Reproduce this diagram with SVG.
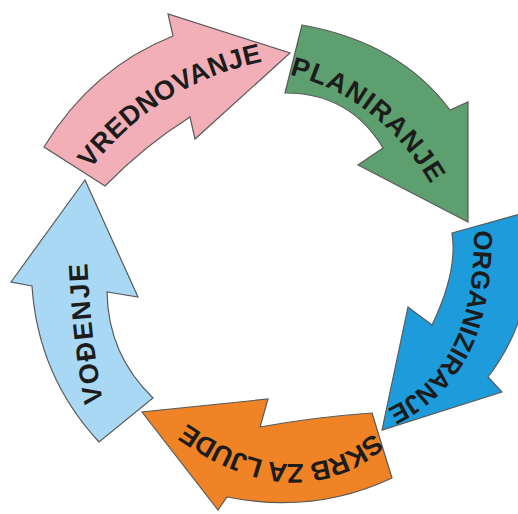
<svg xmlns="http://www.w3.org/2000/svg" width="518" height="514" viewBox="0 0 518 514">
<defs>
<style>
.arrow{stroke:#5a5a5a;stroke-width:1.2;stroke-linejoin:miter}
.lbl{font-family:"Liberation Sans",Arial,sans-serif;font-weight:bold;fill:#1c1c1c;dominant-baseline:central;text-anchor:middle}
</style>
<path id="tp-vred" d="M80 168 Q150.5 74.25 267 51.5"/>
<path id="tp-plan" d="M283 64 Q386.5 85.5 444 189"/>
<path id="tp-org" d="M483 228 C484 320 460 385 389 418"/>
<path id="tp-skrb" d="M391 429 Q300 521 169 421"/>
<path id="tp-vod" d="M96 413 Q81 339.5 78 252"/>
</defs>
<rect width="518" height="514" fill="#ffffff"/>
<g id="vrednovanje">
<path class="arrow" fill="#F3AFB7" d="M44 147 Q91.5 68.5 173 36 L168 14 L290 53 L195 139 L190 117 Q144 146 105 186 Z"/>
<text class="lbl" font-size="27" letter-spacing="1"><textPath href="#tp-vred" startOffset="50%">VREDNOVANJE</textPath></text>
</g>
<g id="planiranje">
<path class="arrow" fill="#5E9F6F" d="M302 25 Q400 42.5 450 110 L468 102 L468 222 L358 165 L383 148 Q349.6 92.7 285 93 Z"/>
<text class="lbl" font-size="27" letter-spacing="2"><textPath href="#tp-plan" startOffset="50%">PLANIRANJE</textPath></text>
</g>
<g id="organiziranje">
<path class="arrow" fill="#1D9BDB" d="M452 233 L527 212 Q542.5 305.5 488 377 L502 392 L382 430 L408 307 L432 325 Q458 271 452 233 Z"/>
<text class="lbl" font-size="26" letter-spacing="0.5"><textPath href="#tp-org" startOffset="50%">ORGANIZIRANJE</textPath></text>
</g>
<g id="skrb-za-ljude">
<path class="arrow" fill="#EF8325" d="M372 413 Q315 417 260 427 L268 399 L142 412 L218 510 L227 497 Q314.5 514.5 392 478 Z"/>
<text class="lbl" font-size="27"><textPath href="#tp-skrb" startOffset="50%">SKRB ZA LJUDE</textPath></text>
</g>
<g id="vodenje">
<path class="arrow" fill="#A8D8F4" d="M85 180 L11 282 L32 286 Q37.9 375.8 99 442 L153 398 Q108 354.6 107 292 L138 297 Z"/>
<text class="lbl" font-size="27" letter-spacing="2"><textPath href="#tp-vod" startOffset="50%">VOĐENJE</textPath></text>
</g>
</svg>
